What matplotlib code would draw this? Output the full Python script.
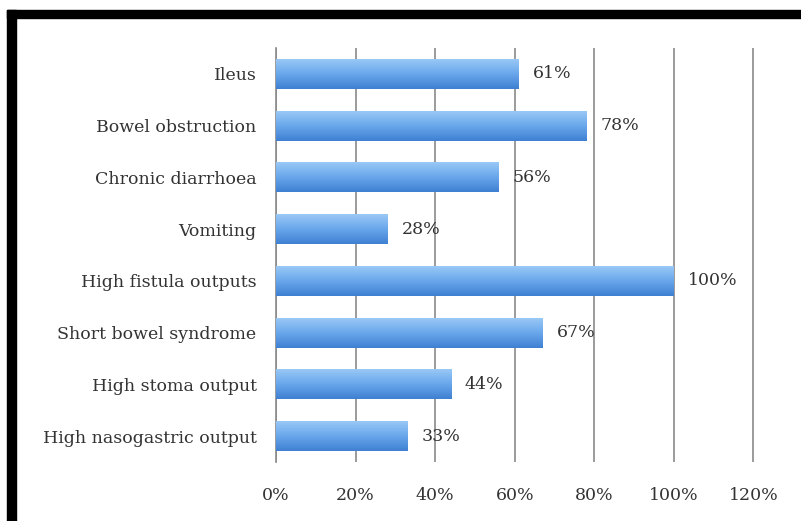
import numpy as np
import matplotlib.pyplot as plt
from matplotlib.colors import LinearSegmentedColormap
from matplotlib.patches import Rectangle

categories = ['Ileus', 'Bowel obstruction', 'Chronic diarrhoea', 'Vomiting',
              'High fistula outputs', 'Short bowel syndrome', 'High stoma output',
              'High nasogastric output']
values = [0.61, 0.78, 0.56, 0.28, 1.00, 0.67, 0.44, 0.33]
labels = ['61%', '78%', '56%', '28%', '100%', '67%', '44%', '33%']
xticks = [0, 0.2, 0.4, 0.6, 0.8, 1.0, 1.2]
xticklabels = ['0%', '20%', '40%', '60%', '80%', '100%', '120%']

plt.rcParams['font.family'] = ['DejaVu Serif']
txt = '#333333'

fig = plt.figure(figsize=(8.01, 5.21), dpi=100, facecolor='white')
ax = fig.add_axes([276 / 801, 59 / 521, 478 / 801, 414 / 521])

y = np.arange(len(categories))
bars = ax.barh(y, values, height=0.58, color='#6aa6e8', edgecolor='none', zorder=3)

cmap = LinearSegmentedColormap.from_list('g', ['#3f80d2', '#6aa8ec', '#9ccaf6'])
grad = np.linspace(0, 1, 64).reshape(-1, 1)
for b in bars:
    x0, y0 = b.get_x(), b.get_y()
    w, h = b.get_width(), b.get_height()
    im = ax.imshow(grad, cmap=cmap, aspect='auto', extent=[x0, x0 + w, y0 + h, y0],
                   origin='lower', zorder=4)
    im.set_clip_path(b)

for yi, v, lab in zip(y, values, labels):
    ax.text(v + 0.035, yi, lab, va='center', ha='left', fontsize=12.5, color=txt, zorder=5)

ax.set_xlim(0, 1.2015)
ax.set_ylim(len(categories) - 0.5, -0.5)
ax.set_xticks(xticks)
ax.set_xticklabels(xticklabels, fontsize=12.5, color=txt)
ax.set_yticks(y)
ax.set_yticklabels(categories, fontsize=12.5, color=txt)
ax.tick_params(axis='both', length=0)
ax.tick_params(axis='x', pad=18)
ax.tick_params(axis='y', pad=14)
ax.grid(axis='x', color='#8a8a8a', linewidth=1.2, zorder=0)
ax.set_axisbelow(True)
for s in ['top', 'right', 'bottom']:
    ax.spines[s].set_visible(False)
ax.spines['left'].set_color('#8a8a8a')
ax.spines['left'].set_linewidth(1.2)

# black frame (top and left edges)
fig.patches.append(Rectangle((7 / 801, 503 / 521), 794 / 801, 8 / 521,
                             transform=fig.transFigure, color='black', zorder=10))
fig.patches.append(Rectangle((7 / 801, 0), 9 / 801, 511 / 521,
                             transform=fig.transFigure, color='black', zorder=10))

fig.savefig('out.png', dpi=100)
